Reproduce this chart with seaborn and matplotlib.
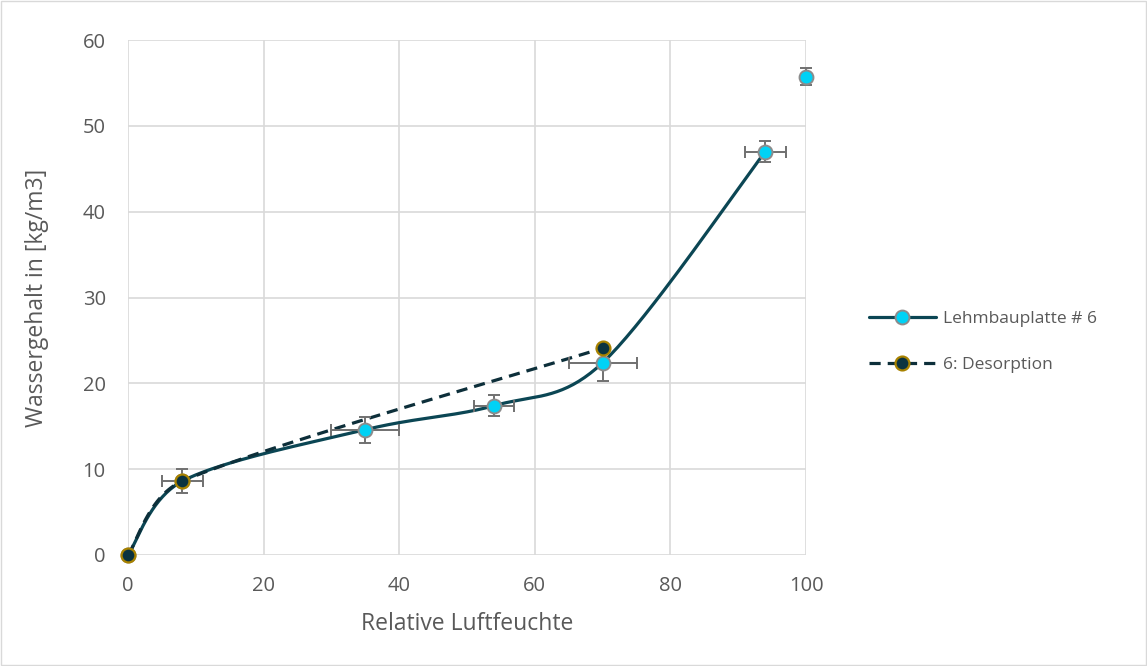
import numpy as np
import pandas as pd
import matplotlib.pyplot as plt
import seaborn as sns
from matplotlib.lines import Line2D
from matplotlib.patches import Rectangle

# Sorption data
rh_ads = [0, 8, 35, 54, 70, 94, 100]
w_ads = [0, 8.6, 14.6, 17.4, 22.4, 47.0, 55.7]
xerr_ads = [0, 3, 5, 3, 5, 3, 0]
yerr_ads = [0, 1.4, 1.5, 1.2, 2.1, 1.2, 1.0]
n_connected = 6  # the point at 100 % is not joined by the line

rh_des = [0, 8, 70]
w_des = [0, 8.6, 24.1]

label_ads = 'Lehmbauplatte # 6'
label_des = '6: Desorption'


def smooth(xs, ys, n=40):
    # Excel-style smoothed line (Bezier through the points)
    p = np.column_stack([xs, ys]).astype(float)
    p = np.vstack([p[0], p, p[-1]])
    segs = []
    t = np.linspace(0, 1, n)[:, None]
    for i in range(1, len(p) - 2):
        p0, p1, p2, p3 = p[i - 1], p[i], p[i + 1], p[i + 2]
        seg_len = np.hypot(*(p2 - p1))
        d1 = (p2 - p0) / 6
        d2 = (p3 - p1) / 6
        # keep control points from overshooting on short segments
        for d in (d1, d2):
            nrm = np.hypot(*d)
            if nrm > 0.45 * seg_len:
                d *= 0.45 * seg_len / nrm
        c1 = p1 + d1
        c2 = p2 - d2
        segs.append((1 - t) ** 3 * p1 + 3 * (1 - t) ** 2 * t * c1
                    + 3 * (1 - t) * t ** 2 * c2 + t ** 3 * p2)
    pts = np.vstack(segs)
    return pd.DataFrame({'x': pts[:, 0], 'y': pts[:, 1]})


sns.set_style('white')
plt.rcParams['font.family'] = ['Open Sans', 'DejaVu Sans']

line_col = '#0b4654'
des_col = '#0d2f3a'
grid_col = '#d9d9d9'
text_col = '#595959'

fig = plt.figure(figsize=(11.47, 6.66), dpi=100)
ax = fig.add_axes([128 / 1147, 1 - 555 / 666, (806 - 128) / 1147, (555 - 40) / 666])
fig.add_artist(Rectangle((0.001, 0.001), 0.998, 0.997, transform=fig.transFigure,
                         fill=False, edgecolor=grid_col, lw=1))

ads_curve = smooth(rh_ads[:n_connected], w_ads[:n_connected])
des_curve = smooth(rh_des, w_des)

sns.lineplot(data=ads_curve, x='x', y='y', sort=False, estimator=None,
             color=line_col, lw=2.3, ax=ax, zorder=3)
sns.lineplot(data=des_curve, x='x', y='y', sort=False, estimator=None,
             color=des_col, lw=2.3, ax=ax, zorder=4, dashes=False,
             linestyle=(0, (3.5, 2.2)))

ax.errorbar(rh_ads, w_ads, xerr=xerr_ads, yerr=yerr_ads, fmt='none',
            ecolor='#707070', elinewidth=1.4, capsize=4, capthick=1.4, zorder=5,
            clip_on=False)

ax.plot(rh_ads, w_ads, ls='none', marker='o', ms=10, mfc='#00d2f5',
        mec='#8c8c8c', mew=1.4, zorder=6, clip_on=False)
ax.plot(rh_des, w_des, ls='none', marker='o', ms=10, mfc='#0b3340',
        mec='#a88200', mew=1.6, zorder=7, clip_on=False)

ax.set_xlim(0, 100)
ax.set_ylim(0, 60)
ax.set_xticks(range(0, 101, 20))
ax.set_yticks(range(0, 61, 10))
ax.grid(True, color=grid_col, lw=1.2)
ax.set_axisbelow(True)
for s in ax.spines.values():
    s.set_visible(False)
ax.tick_params(axis='x', length=0, labelsize=14.5, colors=text_col, pad=15)
ax.tick_params(axis='y', length=0, labelsize=14.5, colors=text_col, pad=16)
ax.set_xlabel('Relative Luftfeuchte', fontsize=16.5, color=text_col, labelpad=12)
ax.set_ylabel('Wassergehalt in [kg/m3]', fontsize=16.5, color=text_col, labelpad=24)

handles = [
    Line2D([], [], color=line_col, lw=2.3, marker='o', ms=10, mfc='#00d2f5',
           mec='#8c8c8c', mew=1.4),
    Line2D([], [], color=des_col, lw=2.3, ls=(0, (3.5, 2.2)), marker='o', ms=10,
           mfc='#0b3340', mec='#a88200', mew=1.6),
]
leg = fig.legend(handles, [label_ads, label_des], loc='center left',
                 bbox_to_anchor=(853 / 1147, 1 - 342 / 666), frameon=False,
                 fontsize=12.5, handlelength=3.9, labelspacing=1.75, handletextpad=0.4)
for t in leg.get_texts():
    t.set_color(text_col)

fig.savefig('out.png', dpi=100)
